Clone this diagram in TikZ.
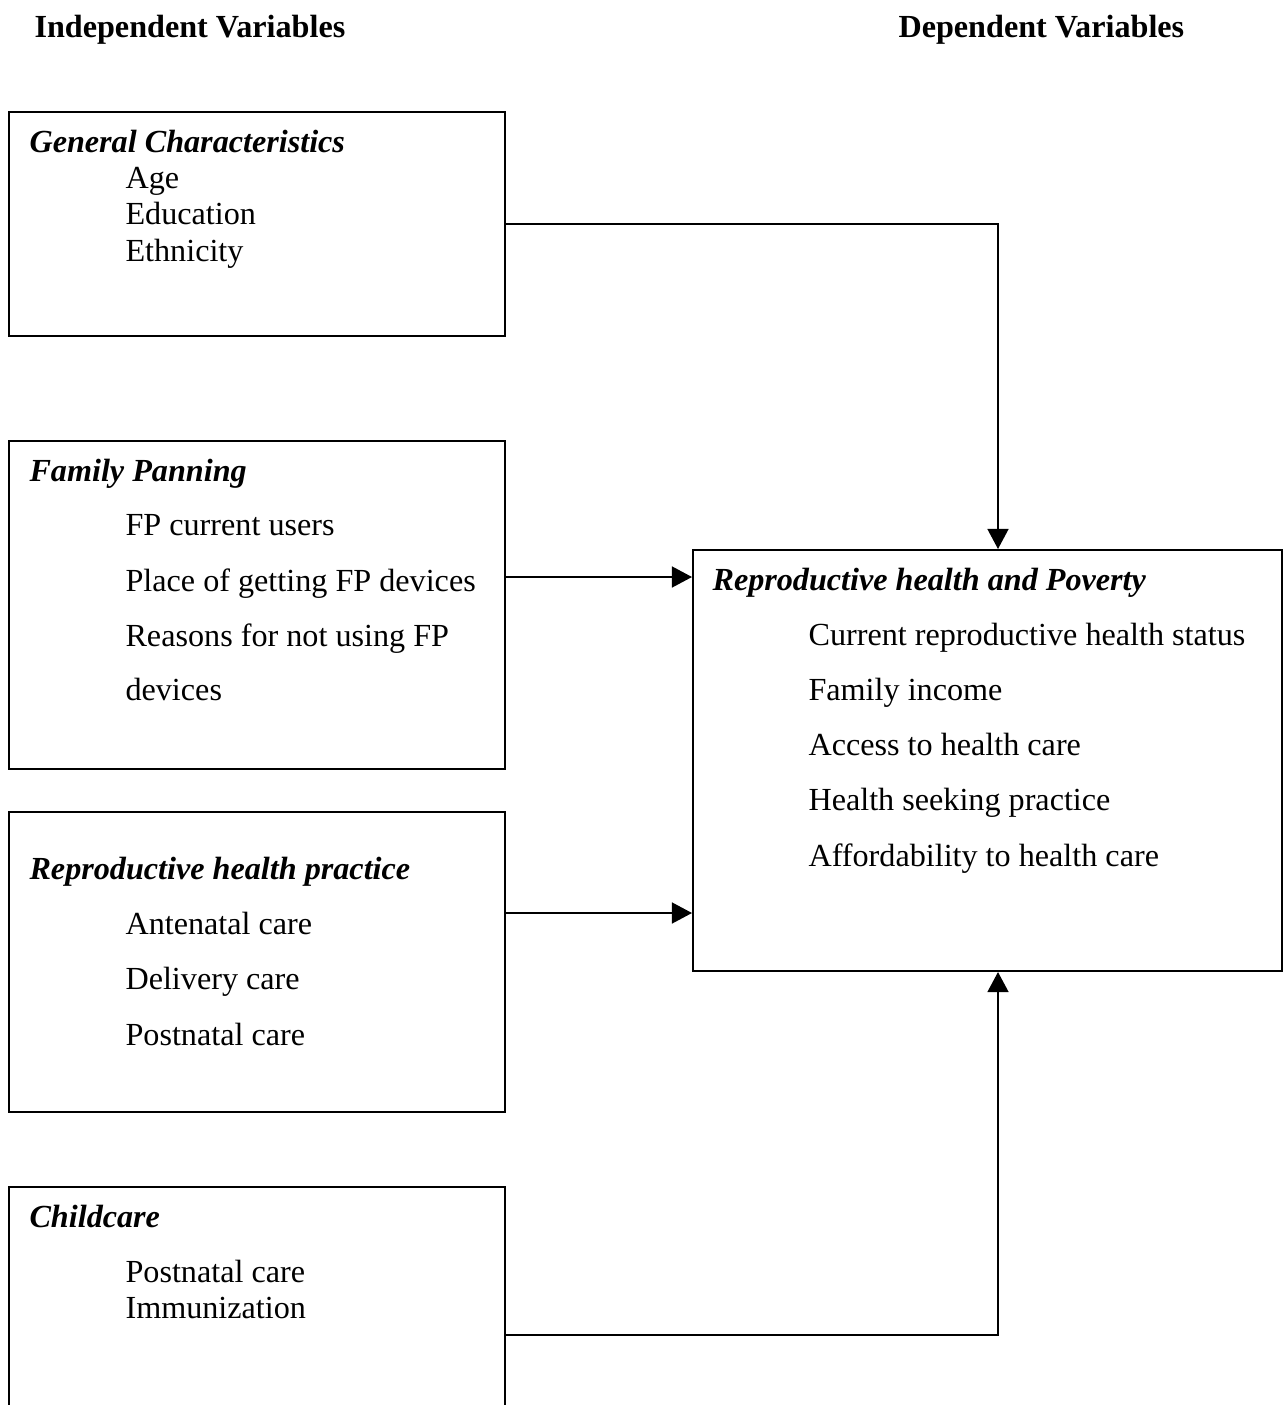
\documentclass[tikz,border=0pt]{standalone}
\usepackage{fontspec}
\setmainfont{Liberation Serif}
\usetikzlibrary{arrows.meta}
\begin{document}
\begin{tikzpicture}[x=0.373pt,y=-0.373pt,
  every node/.style={font=\fontsize{12pt}{13.8pt}\selectfont},
  box/.style={draw,line width=0.75pt,rectangle,inner sep=0pt,anchor=north west},
  ttl/.style={anchor=base west,inner sep=0pt,font=\fontsize{12pt}{13.8pt}\selectfont\bfseries\itshape},
  itm/.style={anchor=base west,inner sep=0pt},
  hdr/.style={anchor=base west,inner sep=0pt,font=\fontsize{12pt}{13.8pt}\selectfont\bfseries},
  arr/.style={line width=0.75pt,-{Triangle[length=7.5pt,width=7.8pt]}},
  ln/.style={line width=0.75pt}]
\clip (0,0) rectangle (1288,1405);
\fill[white] (0,0) rectangle (1288,1405);
% headers
\node[hdr] (h1) at (34,37) {Independent Variables};
\node[hdr] (h2) at (898,37) {Dependent Variables};
% boxes
\node[box,minimum width={496*0.373pt},minimum height={224*0.373pt}] (gc) at (8,111) {};
\node[box,minimum width={496*0.373pt},minimum height={328*0.373pt}] (fp) at (8,440) {};
\node[box,minimum width={496*0.373pt},minimum height={300*0.373pt}] (rp) at (8,811) {};
\node[box,minimum width={496*0.373pt},minimum height={240*0.373pt}] (cc) at (8,1186) {};
\node[box,minimum width={589*0.373pt},minimum height={421*0.373pt}] (rh) at (692,549) {};
% texts
\node[ttl] (t1) at (29,152) {General Characteristics};
\node[itm] (t1a) at (125,188) {Age};
\node[itm] (t1b) at (125,224) {Education};
\node[itm] (t1c) at (125,261) {Ethnicity};
\node[ttl] (t2) at (29,481) {Family Panning};
\node[itm] (t2a) at (125,535) {FP current users};
\node[itm] (t2b) at (125,591) {Place of getting FP devices};
\node[itm] (t2c) at (125,646) {Reasons for not using FP};
\node[itm] (t2d) at (125,700) {devices};
\node[ttl] (t3) at (29,879) {Reproductive health practice};
\node[itm] (t3a) at (125,934) {Antenatal care};
\node[itm] (t3b) at (125,989) {Delivery care};
\node[itm] (t3c) at (125,1045) {Postnatal care};
\node[ttl] (t4) at (29,1227) {Childcare};
\node[itm] (t4a) at (125,1282) {Postnatal care};
\node[itm] (t4b) at (125,1318) {Immunization};
\node[ttl] (t5) at (712,590) {Reproductive health and Poverty};
\node[itm] (t5a) at (808,645) {Current reproductive health status};
\node[itm] (t5b) at (808,700) {Family income};
\node[itm] (t5c) at (808,755) {Access to health care};
\node[itm] (t5d) at (808,810) {Health seeking practice};
\node[itm] (t5e) at (808,866) {Affordability to health care};
% connectors
\coordinate (cx) at (998,0);
\coordinate (yfp) at (0,577);
\coordinate (yrp) at (0,913);
\coordinate (ycc) at (0,1335);
\draw[arr] (gc.east) -| (cx |- rh.north);
\draw[arr] (fp.east |- yfp) -- (rh.west |- yfp);
\draw[arr] (rp.east |- yrp) -- (rh.west |- yrp);
\draw[arr] (cc.east |- ycc) -| (cx |- rh.south);
\end{tikzpicture}
\end{document}
